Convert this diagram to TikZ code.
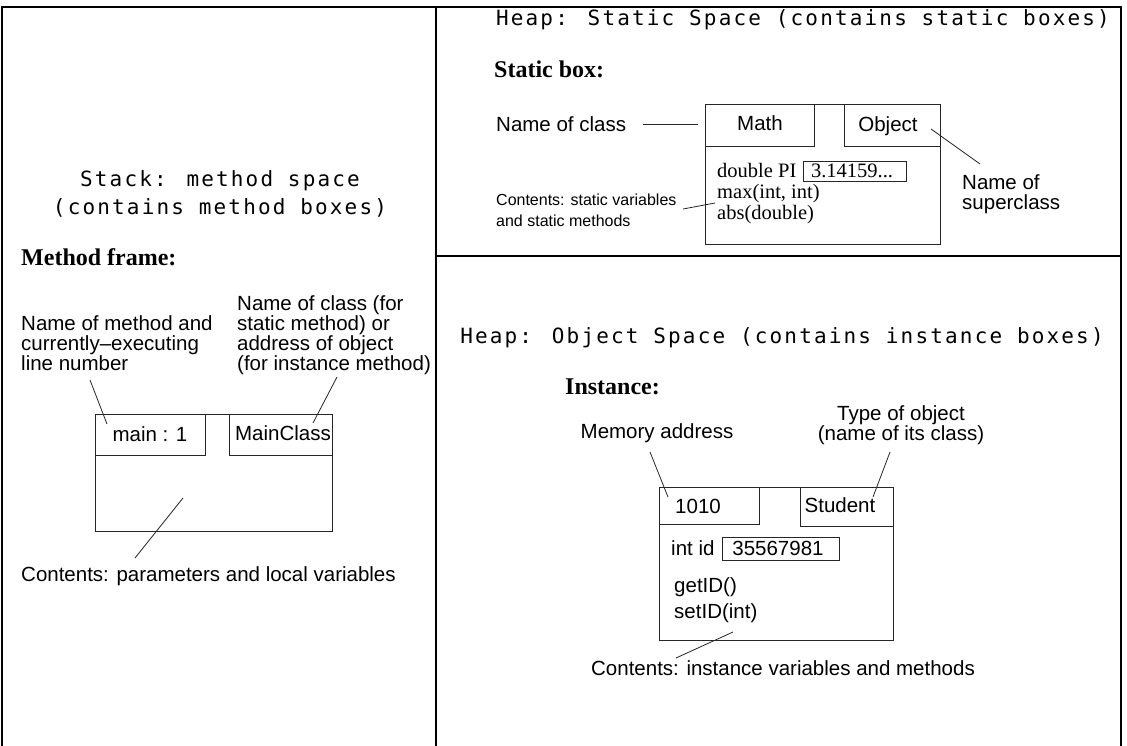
\documentclass[tikz,border=0pt]{standalone}
\usepackage{fontspec}
\setmainfont{Liberation Serif}
\setsansfont{Liberation Sans}
\newfontfamily\titlefont[LetterSpace=10.3]{DejaVu Sans Mono}
\tikzset{
  frameline/.style={line width=2.6pt, line join=miter},
  box/.style={draw=black!85, line width=0.9pt, inner sep=0pt, outer sep=0pt, anchor=north west},
  lead/.style={draw=black!85, line width=0.8pt},
  lbl/.style={font=\sffamily\fontsize{20.5}{20}\selectfont, align=left, inner sep=0pt},
  small/.style={font=\sffamily\fontsize{16}{21}\selectfont, align=left, inner sep=0pt},
  ser/.style={font=\rmfamily\fontsize{20.5}{21}\selectfont, inner sep=0pt},
  sub/.style={font=\rmfamily\bfseries\fontsize{24}{24}\selectfont, inner sep=0pt},
  ttl/.style={font=\titlefont\fontsize{21}{28}\selectfont, align=center, inner sep=0pt}
}
\begin{document}
\begin{tikzpicture}[x=1pt,y=-1pt]
\useasboundingbox (0,0) rectangle (1127,746);
\fill[white] (0,0) rectangle (1127,746);
% frame
\draw[frameline] (2,746) -- (2,7) -- (1121,7) -- (1121,746);
\draw[frameline] (436,7) -- (436,746);
\draw[frameline] (436,256) -- (1121,256);

% ---------- left panel: stack ----------
\node[ttl] (stacktitle) at (220,194) {Stack: method space\\(contains method boxes)};
\node[sub, anchor=west] (mframe) at (21,257) {Method frame:};
\node[lbl, anchor=west] (mname) at (21,343) {Name of method and\\currently–executing\\line number};
\node[lbl, anchor=west] (cname) at (237,335) {Name of class (for\\static method) or\\address of object\\(for instance method)};
\node[box, minimum width=237pt, minimum height=117pt] (frame) at (95,414) {};
\node[box, minimum width=110pt, minimum height=41pt] (mainbox) at (95,414) {};
\node[box, minimum width=103pt, minimum height=41pt] (mcbox) at (229,414) {};
\node[lbl] (maintxt) at (150,434) {main : 1};
\node[lbl] (mctxt) at (283,433) {MainClass};
\node[lbl, anchor=west] (pcont) at (21,576) {Contents: parameters and local variables};
\coordinate (a1) at (90,380); \coordinate (a2) at (107,424);
\coordinate (b1) at (337,377); \coordinate (b2) at (313,423);
\coordinate (c1) at (183,498); \coordinate (c2) at (135,558);
\draw[lead] (a1) -- (a2);
\draw[lead] (b1) -- (b2);
\draw[lead] (c1) -- (c2);

% ---------- right top: static space ----------
\node[ttl] (statictitle) at (803,20) {Heap: Static Space (contains static boxes)};
\node[sub, anchor=west] (sbox) at (494,69) {Static box:};
\node[lbl, anchor=west] (nclass) at (496,124) {Name of class};
\node[box, minimum width=235pt, minimum height=140pt] (sbouter) at (705,104) {};
\node[box, minimum width=109pt, minimum height=42pt] (mathbox) at (705,104) {};
\node[box, minimum width=96pt, minimum height=42pt] (objbox) at (844,104) {};
\node[lbl] (mathtxt) at (760,123) {Math};
\node[lbl] (objtxt) at (888,126) {Object};
\node[ser, anchor=west] (dpi) at (717,170) {double PI};
\node[box, minimum width=103pt, minimum height=20pt] (pibox) at (803,161) {};
\node[ser] (pitxt) at (852,171) {3.14159...};
\node[ser, anchor=west] (maxt) at (717,194) {max(int, int)};
\node[ser, anchor=west] (abst) at (717,215) {abs(double)};
\node[small, anchor=west] (scont) at (496,210) {Contents: static variables\\and static methods};
\node[lbl, anchor=west] (supn) at (962,194) {Name of\\superclass};
\coordinate (d1) at (643,124); \coordinate (d2) at (698,124);
\coordinate (e1) at (683,209); \coordinate (e2) at (715,203);
\coordinate (f1) at (931,129); \coordinate (f2) at (980,164);
\draw[lead] (d1) -- (d2);
\draw[lead] (e1) -- (e2);
\draw[lead] (f1) -- (f2);

% ---------- right bottom: object space ----------
\node[ttl] (objtitle) at (782,338) {Heap: Object Space (contains instance boxes)};
\node[sub, anchor=west] (inst) at (565,387) {Instance:};
\node[lbl] (memaddr) at (657,433) {Memory address};
\node[lbl, align=center] (typeobj) at (901,425) {Type of object\\(name of its class)};
\node[box, minimum width=234pt, minimum height=153pt] (iouter) at (659,487) {};
\node[box, minimum width=100pt, minimum height=37pt] (addrbox) at (659,487) {};
\node[box, minimum width=93pt, minimum height=39pt] (stbox) at (800,487) {};
\node[lbl] (addrtxt) at (698,506) {1010};
\node[lbl] (sttxt) at (840,505) {Student};
\node[lbl, anchor=west] (intid) at (671,548) {int id};
\node[box, minimum width=117pt, minimum height=23pt] (idbox) at (722,537) {};
\node[lbl] (idtxt) at (778,548) {35567981};
\node[lbl, anchor=west] (getid) at (674,587) {getID()};
\node[lbl, anchor=west] (setid) at (674,613) {setID(int)};
\node[lbl] (icont) at (783,668) {Contents: instance variables and methods};
\coordinate (g1) at (650,452); \coordinate (g2) at (668,497);
\coordinate (h1) at (890,452); \coordinate (h2) at (873,497);
\coordinate (i1) at (733,632); \coordinate (i2) at (676,658);
\draw[lead] (g1) -- (g2);
\draw[lead] (h1) -- (h2);
\draw[lead] (i1) -- (i2);
\end{tikzpicture}
\end{document}
